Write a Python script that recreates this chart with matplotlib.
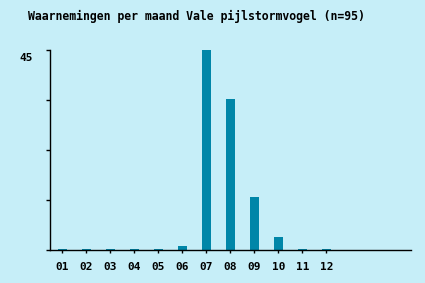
import matplotlib
matplotlib.use('Agg')
import matplotlib.pyplot as plt
import matplotlib.transforms as mtransforms
import numpy as np

months = ['01', '02', '03', '04', '05', '06', '07', '08', '09', '10', '11', '12']
counts = [0, 0, 0, 0, 0, 1, 45, 34, 12, 3, 0, 0]
title = 'Waarnemingen per maand Vale pijlstormvogel (n=95)'

bg = '#c6eef8'
bar_color = '#0086a8'

fig = plt.figure(figsize=(4.25, 2.83), dpi=100, facecolor=bg)
ax = fig.add_axes([50 / 425, 1 - 250 / 283, 361 / 425, 200 / 283])
ax.set_facecolor(bg)

x = np.arange(len(months))
# empty months still get a thin stub, like the original
shown = np.maximum(np.array(counts, dtype=float), 0.3)
ax.bar(x, shown, width=0.375, color=bar_color)

ax.set_xlim(-0.51, 14.53)
ax.set_ylim(0, 45)
for side in ['top', 'right']:
    ax.spines[side].set_visible(False)
for side in ['left', 'bottom']:
    ax.spines[side].set_linewidth(1.0)

mono = {'family': 'DejaVu Sans Mono', 'weight': 'bold', 'size': 8}
ax.set_xticks(x)
ax.set_xticklabels(months, fontdict=mono)
ax.tick_params(axis='x', length=2.5, width=1, pad=6.5)

ax.set_yticks([0, 11.25, 22.5, 33.75, 45])
ax.set_yticklabels(['', '', '', '', '45'], fontdict=mono)
ax.tick_params(axis='y', length=3, width=1, pad=9)
shift = mtransforms.ScaledTranslation(0, -7 / 100, fig.dpi_scale_trans)
for lbl in ax.get_yticklabels():
    lbl.set_transform(lbl.get_transform() + shift)

fig.text(28 / 425, 1 - 16.5 / 283, title, ha='left', va='center',
         family='DejaVu Sans Mono', weight='bold', size=8.3)

fig.savefig('out.png', dpi=100, facecolor=bg)
